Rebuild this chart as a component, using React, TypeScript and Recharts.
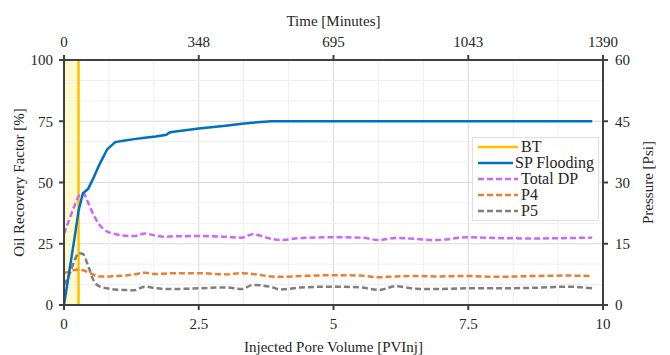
import { LineChart, Line, XAxis, YAxis, CartesianGrid, ReferenceLine, ReferenceArea, Legend } from "recharts";

// injected pore volume [PVInj]
const pv = [0, 0.1, 0.2, 0.27, 0.35, 0.45, 0.55, 0.65, 0.8, 0.95, 1.1, 1.3, 1.5, 1.7, 1.9, 1.95, 2.0, 2.5, 3.0, 3.3, 3.5, 3.85, 4.0, 4.4, 5.0, 5.5, 5.85, 6.15, 6.5, 6.9, 7.5, 8.0, 8.7, 9.35, 9.8];
// oil recovery factor [%]
const spFlooding = [0, 14, 28, 38.5, 45.5, 47.5, 52, 57, 63.5, 66.5, 67, 67.7, 68.3, 68.8, 69.5, 70.3, 70.6, 72, 73.2, 74, 74.4, 75, 75, 75, 75, 75, 75, 75, 75, 75, 75, 75, 75, 75, 75];
// pressures [Psi]
const totalDp = [17.4, 21, 24.5, 26.6, 27.4, 25, 22, 19.8, 18, 17.4, 17, 16.9, 17.5, 17, 16.7, 16.8, 16.8, 16.9, 16.7, 16.5, 17.3, 16.2, 15.9, 16.4, 16.6, 16.5, 15.9, 16.4, 16.2, 15.9, 16.6, 16.4, 16.3, 16.4, 16.5];
const p4 = [7.8, 8.2, 8.6, 8.7, 8.5, 8.0, 7.4, 7.0, 7.0, 7.1, 7.2, 7.5, 7.9, 7.6, 7.7, 7.8, 7.8, 7.8, 7.5, 7.8, 7.6, 7.0, 6.9, 7.1, 7.3, 7.2, 6.8, 7.0, 7.1, 7.0, 7.1, 6.9, 7.1, 7.2, 7.1];
const p5 = [4.9, 7.5, 11, 12.7, 12.5, 9.5, 6, 4.6, 4.1, 3.8, 3.7, 3.6, 4.5, 4.1, 3.9, 3.9, 3.9, 4.1, 4.3, 3.9, 4.9, 4.4, 3.8, 4.3, 4.5, 4.3, 3.7, 4.6, 4.0, 3.9, 4.1, 4.1, 4.2, 4.5, 4.1];

const breakthrough = 0.27;

const pvTicks = [0, 2.5, 5, 7.5, 10];
const timeLabels = ["0", "348", "695", "1043", "1390"];
const recoveryTicks = [0, 25, 50, 75, 100];
const pressureTicks = [0, 15, 30, 45, 60];

const legendItems = [
  { name: "BT", color: "#FFC000", dashed: false },
  { name: "SP Flooding", color: "#0070C0", dashed: false },
  { name: "Total DP", color: "#CC66FF", dashed: true },
  { name: "P4", color: "#ED7D31", dashed: true },
  { name: "P5", color: "#7F7F7F", dashed: true },
];

const data = pv.map((x, i) => ({ pv: x, sp: spFlooding[i], dp: totalDp[i], p4: p4[i], p5: p5[i] }));

// three minor divisions between every major tick
function minorValues(ticks: number[]) {
  const out: number[] = [];
  for (let i = 0; i < ticks.length - 1; i++) {
    const step = (ticks[i + 1] - ticks[i]) / 3;
    out.push(ticks[i] + step, ticks[i] + 2 * step);
  }
  return out;
}

const font = "Liberation Serif";
const axisColor = "#404040";
const textColor = "#262626";
const dash = "6 3";
const tickStyle = { fill: textColor, fontSize: 15, fontFamily: font };
const labelStyle = { fill: textColor, fontSize: 15, fontFamily: font };

function ChartLegend() {
  return (
    <div style={{ background: "#fff", border: "1px solid #e0e0e0", padding: "1px 4px 1px 4px", fontSize: 16, lineHeight: "16px", color: textColor, fontFamily: font, whiteSpace: "nowrap" }}>
      {legendItems.map((it) => (
        <div key={it.name} style={{ display: "flex", alignItems: "center", height: 16 }}>
          <svg width={42} height={16}>
            <line x1={1} y1={8} x2={41} y2={8} stroke={it.color} strokeWidth={2.5} strokeDasharray={it.dashed ? dash : undefined} />
          </svg>
          <span style={{ marginLeft: 2 }}>{it.name}</span>
        </div>
      ))}
    </div>
  );
}

export default function App() {
  return (
    <div style={{ position: "absolute", left: 0, top: 0, fontFamily: font }}>
      <LineChart width={670} height={355} data={data} margin={{ top: 0, right: 0, bottom: 0, left: 0 }}>
        {minorValues(pvTicks).map((v) => (
          <ReferenceLine key={"mx" + v} x={v} yAxisId="left" stroke="#efefef" strokeWidth={1} />
        ))}
        {minorValues(recoveryTicks).map((v) => (
          <ReferenceLine key={"my" + v} y={v} yAxisId="left" stroke="#efefef" strokeWidth={1} />
        ))}
        <CartesianGrid yAxisId="left" stroke="#d9d9d9" strokeWidth={1} />
        <ReferenceArea x1={0} x2={breakthrough} yAxisId="left" fill="#FFF9C8" fillOpacity={0.9} strokeOpacity={0} />
        <XAxis
          dataKey="pv"
          type="number"
          domain={[0, 10]}
          ticks={pvTicks}
          interval={0}
          height={50}
          stroke={axisColor}
          strokeWidth={2}
          tick={tickStyle}
          tickSize={5}
          tickMargin={8}
          label={{ value: "Injected Pore Volume [PVInj]", position: "insideBottom", offset: 3, ...labelStyle }}
        />
        <XAxis
          xAxisId="time"
          dataKey="pv"
          orientation="top"
          type="number"
          domain={[0, 10]}
          ticks={pvTicks}
          interval={0}
          tickFormatter={(_v: number, i: number) => timeLabels[i]}
          height={60}
          stroke={axisColor}
          strokeWidth={2}
          tick={tickStyle}
          tickSize={5}
          tickMargin={8}
          label={{ value: "Time [Minutes]", position: "insideTop", offset: 15, ...labelStyle }}
        />
        <YAxis
          yAxisId="left"
          domain={[0, 100]}
          ticks={recoveryTicks}
          interval={0}
          width={64}
          stroke={axisColor}
          strokeWidth={2}
          tick={tickStyle}
          tickSize={5}
          tickMargin={6}
          label={{ value: "Oil Recovery Factor [%]", angle: -90, position: "insideLeft", offset: 19, ...labelStyle, style: { textAnchor: "middle" } }}
        />
        <YAxis
          yAxisId="right"
          orientation="right"
          domain={[0, 60]}
          ticks={pressureTicks}
          interval={0}
          width={67}
          stroke={axisColor}
          strokeWidth={2}
          tick={tickStyle}
          tickSize={5}
          tickMargin={7}
          label={{ value: "Pressure [Psi]", angle: -90, position: "insideRight", offset: 22, ...labelStyle, style: { textAnchor: "middle" } }}
        />
        <ReferenceLine x={breakthrough} yAxisId="left" stroke="#FFC000" strokeWidth={2.5} />
        <Line yAxisId="right" type="monotone" dataKey="p5" stroke="#7F7F7F" strokeWidth={2.5} strokeDasharray={dash} dot={false} isAnimationActive={false} />
        <Line yAxisId="right" type="monotone" dataKey="p4" stroke="#ED7D31" strokeWidth={2.5} strokeDasharray={dash} dot={false} isAnimationActive={false} />
        <Line yAxisId="right" type="monotone" dataKey="dp" stroke="#CC66FF" strokeWidth={2.5} strokeDasharray={dash} dot={false} isAnimationActive={false} />
        <Line xAxisId="time" yAxisId="left" type="linear" dataKey="sp" stroke="#0070C0" strokeWidth={2.5} dot={false} isAnimationActive={false} />
        <Legend layout="vertical" align="center" verticalAlign="middle" content={ChartLegend} wrapperStyle={{ top: 137, left: 472, width: 127 }} />
      </LineChart>
    </div>
  );
}
